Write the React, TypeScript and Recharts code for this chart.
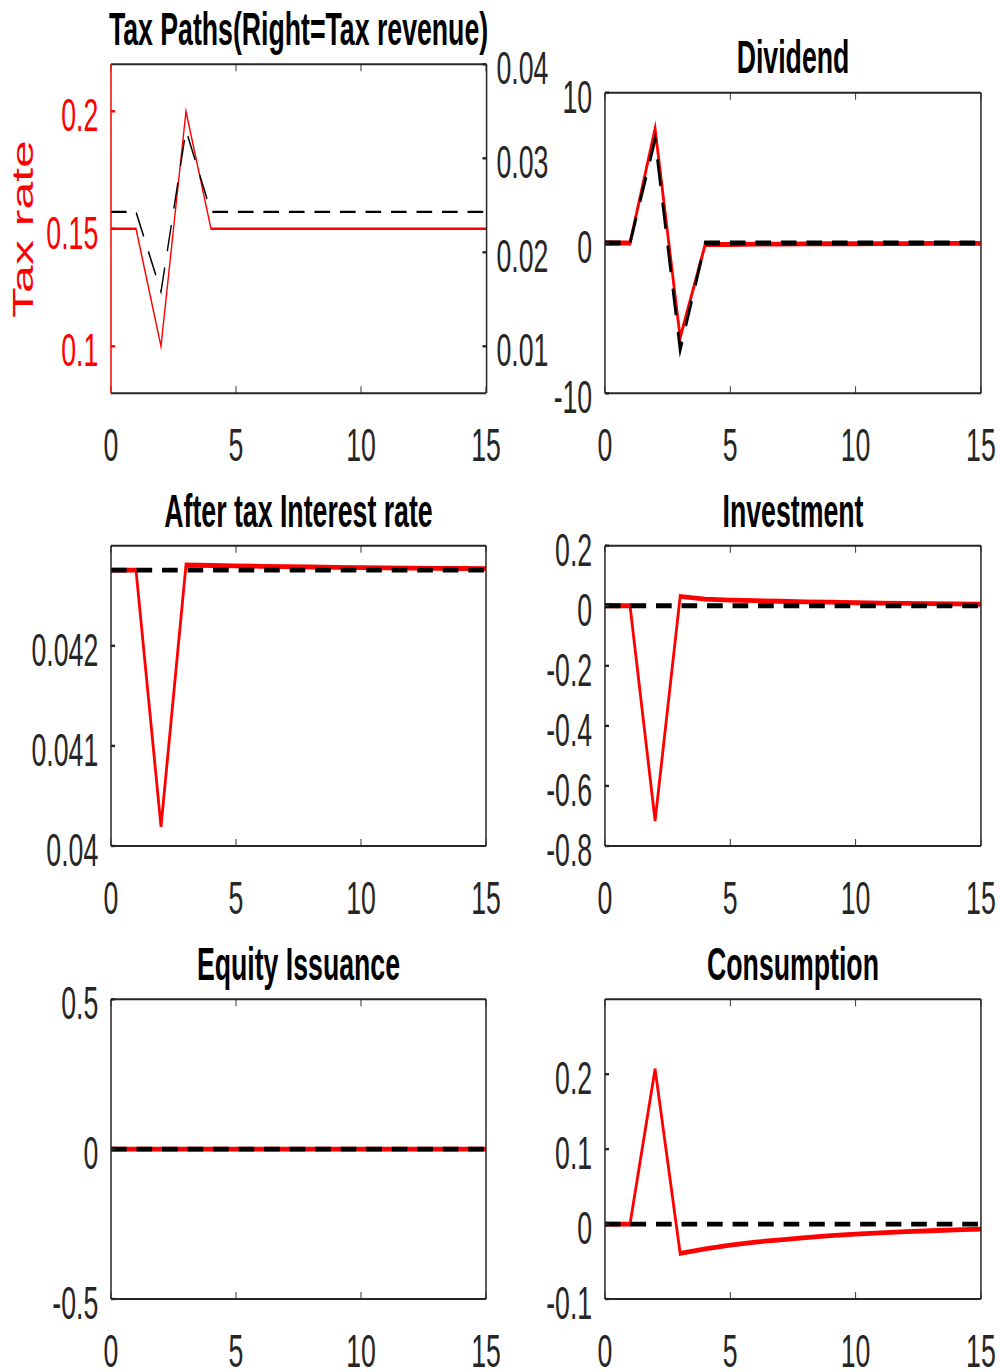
import { LineChart, Line, XAxis, YAxis } from 'recharts'

// The reference is a MATLAB figure squeezed horizontally, so everything is
// drawn in a wide space and compressed with scaleX at the end.
const SX = 0.58
const FONT = '"Liberation Sans", Arial, Helvetica, sans-serif'
const INK = '#262626'
const RED = '#ff0000'
const TICK = 7

const periods = [0, 1, 2, 3, 4, 5, 6, 7, 8, 9, 10, 11, 12, 13, 14, 15]
const xTicks = [0, 5, 10, 15]

const taxRate = [0.15, 0.15, 0.1, 0.2, 0.15, 0.15, 0.15, 0.15, 0.15, 0.15, 0.15, 0.15, 0.15, 0.15, 0.15, 0.15]
const taxRevenue = [0.0243, 0.0243, 0.0158, 0.033, 0.0243, 0.0243, 0.0243, 0.0243, 0.0243, 0.0243, 0.0243, 0.0243, 0.0243, 0.0243, 0.0243, 0.0243]

const dividend = [0, 0, 7.6, -6.3, -0.1, -0.1, -0.08, -0.07, -0.06, -0.05, -0.05, -0.04, -0.04, -0.03, -0.03, -0.03]
const dividendBase = [0, 0, 6.9, -7.1, 0, 0, 0, 0, 0, 0, 0, 0, 0, 0, 0, 0]

const interestRate = [0.042757, 0.042757, 0.040193, 0.042807, 0.042802, 0.042798, 0.042794, 0.04279, 0.042787, 0.042784, 0.042781, 0.042778, 0.042776, 0.042774, 0.042772, 0.04277]
const interestBase = [0.042757, 0.042757, 0.042757, 0.042757, 0.042757, 0.042757, 0.042757, 0.042757, 0.042757, 0.042757, 0.042757, 0.042757, 0.042757, 0.042757, 0.042757, 0.042757]

const investment = [0, 0, -0.716, 0.031, 0.022, 0.019, 0.017, 0.015, 0.013, 0.012, 0.01, 0.009, 0.008, 0.007, 0.006, 0.005]
const investmentBase = [0, 0, 0, 0, 0, 0, 0, 0, 0, 0, 0, 0, 0, 0, 0, 0]

const equity = [0, 0, 0, 0, 0, 0, 0, 0, 0, 0, 0, 0, 0, 0, 0, 0]
const equityBase = [0, 0, 0, 0, 0, 0, 0, 0, 0, 0, 0, 0, 0, 0, 0, 0]

const consumption = [0, 0, 0.207, -0.039, -0.033, -0.028, -0.024, -0.021, -0.018, -0.0155, -0.0135, -0.0117, -0.0102, -0.0089, -0.0078, -0.0068]
const consumptionBase = [0, 0, 0, 0, 0, 0, 0, 0, 0, 0, 0, 0, 0, 0, 0, 0]

const rows = (a: number[], b: number[]) => periods.map((t, i) => ({ t, red: a[i], black: b[i] }))

const leftTick = (color: string) => (p: any) => (
  <text x={p.x - TICK - 22} y={p.y + 20} textAnchor="end" fill={color} fontSize={46} fontFamily={FONT}>
    {String(p.payload.value)}
  </text>
)

const rightTick = (p: any) => (
  <text x={p.x + TICK + 17} y={p.y + 20} textAnchor="start" fill={INK} fontSize={46} fontFamily={FONT}>
    {String(p.payload.value)}
  </text>
)

const bottomTick = (p: any) => (
  <text x={p.x} y={p.y + TICK + 68} textAnchor="middle" fill={INK} fontSize={46} fontFamily={FONT}>
    {String(p.payload.value)}
  </text>
)

const noTick = () => <g />

interface PanelProps {
  data: Array<Record<string, number>>
  box: [number, number, number, number] // x0, y0, x1, y1 (final px)
  plot: [number, number, number, number] // left, top, right, bottom (final px)
  domain: [number, number]
  ticks: number[]
  leftColor?: string
  right?: { domain: [number, number]; ticks: number[] }
  lineWidth: number
}

function Panel({ data, box, plot, domain, ticks, leftColor = INK, right, lineWidth }: PanelProps) {
  const [x0, y0, x1, y1] = box
  const [l, t, r, b] = plot
  const rightW = right ? 2 : 1
  const axisX = { stroke: INK, strokeWidth: 2 }
  const axisY = (c: string) => ({ stroke: c, strokeWidth: 2.6 })
  const tickX = { stroke: INK, strokeWidth: 1.6 }
  const tickY = (c: string) => ({ stroke: c, strokeWidth: 2.4 })

  return (
    <div style={{ position: 'absolute', left: x0 / SX, top: y0 }}>
      <LineChart
        width={(x1 - x0) / SX}
        height={y1 - y0}
        data={data}
        margin={{ top: t - y0 - 1, right: (x1 - r) / SX - rightW, bottom: 0, left: 0 }}
      >
        <XAxis
          xAxisId="b"
          dataKey="t"
          type="number"
          domain={[0, 15]}
          ticks={xTicks}
          interval={0}
          height={y1 - b}
          tickSize={-TICK}
          tickMargin={0}
          axisLine={axisX}
          tickLine={tickX}
          tick={bottomTick}
        />
        <XAxis
          xAxisId="top"
          orientation="top"
          dataKey="t"
          type="number"
          domain={[0, 15]}
          ticks={xTicks}
          interval={0}
          height={1}
          tickSize={-TICK}
          tickMargin={0}
          axisLine={axisX}
          tickLine={tickX}
          tick={noTick}
        />
        <YAxis
          yAxisId="l"
          type="number"
          domain={domain}
          ticks={ticks}
          interval={0}
          width={(l - x0) / SX}
          tickSize={-TICK}
          tickMargin={0}
          axisLine={axisY(leftColor)}
          tickLine={tickY(leftColor)}
          tick={leftTick(leftColor)}
        />
        <YAxis
          yAxisId="r"
          orientation="right"
          type="number"
          domain={right ? right.domain : domain}
          ticks={right ? right.ticks : ticks}
          interval={0}
          width={1}
          tickSize={-TICK}
          tickMargin={0}
          axisLine={axisY(INK)}
          tickLine={tickY(INK)}
          tick={right ? rightTick : noTick}
        />
        {right && (
          <YAxis
            yAxisId="m"
            orientation="right"
            type="number"
            domain={domain}
            ticks={ticks}
            interval={0}
            width={1}
            tickSize={-TICK}
            tickMargin={0}
            axisLine={false}
            tickLine={tickY(RED)}
            tick={noTick}
          />
        )}
        <Line
          xAxisId="b"
          yAxisId="l"
          type="linear"
          dataKey="red"
          stroke={RED}
          strokeWidth={lineWidth}
          dot={false}
          activeDot={false}
          isAnimationActive={false}
        />
        <Line
          xAxisId="b"
          yAxisId={right ? 'r' : 'l'}
          type="linear"
          dataKey="black"
          stroke="#000000"
          strokeWidth={lineWidth}
          strokeDasharray="27 17"
          dot={false}
          activeDot={false}
          isAnimationActive={false}
        />
      </LineChart>
    </div>
  )
}

const titles = [
  { text: 'Tax Paths(Right=Tax revenue)', cx: 298.5, y: 45 },
  { text: 'Dividend', cx: 793, y: 73.3 },
  { text: 'After tax Interest rate', cx: 298.5, y: 526.7 },
  { text: 'Investment', cx: 793, y: 526.7 },
  { text: 'Equity Issuance', cx: 298.5, y: 980 },
  { text: 'Consumption', cx: 793, y: 980 },
]

export default function App() {
  return (
    <div style={{ position: 'absolute', left: 0, top: 0, width: 1000, height: 1372, overflow: 'hidden', background: '#fff' }}>
      <div
        style={{
          position: 'absolute',
          left: 0,
          top: 0,
          width: 1000 / SX,
          height: 1372,
          transform: `scaleX(${SX})`,
          transformOrigin: '0 0',
        }}
      >
        <Panel
          data={rows(taxRate, taxRevenue)}
          box={[0, 0, 560, 490]}
          plot={[111, 64.3, 486, 393.3]}
          domain={[0.08, 0.22]}
          ticks={[0.1, 0.15, 0.2]}
          leftColor={RED}
          right={{ domain: [0.005, 0.04], ticks: [0.01, 0.02, 0.03, 0.04] }}
          lineWidth={2.4}
        />
        <Panel
          data={rows(dividend, dividendBase)}
          box={[500, 0, 1000, 490]}
          plot={[605, 92.7, 981, 393.3]}
          domain={[-10, 10]}
          ticks={[-10, 0, 10]}
          lineWidth={4.8}
        />
        <Panel
          data={rows(interestRate, interestBase)}
          box={[0, 470, 500, 940]}
          plot={[111, 545.7, 486, 846]}
          domain={[0.04, 0.043]}
          ticks={[0.04, 0.041, 0.042]}
          lineWidth={4.8}
        />
        <Panel
          data={rows(investment, investmentBase)}
          box={[500, 470, 1000, 940]}
          plot={[605, 545.7, 981, 846]}
          domain={[-0.8, 0.2]}
          ticks={[-0.8, -0.6, -0.4, -0.2, 0, 0.2]}
          lineWidth={4.8}
        />
        <Panel
          data={rows(equity, equityBase)}
          box={[0, 920, 500, 1390]}
          plot={[111, 999.3, 486, 1299]}
          domain={[-0.5, 0.5]}
          ticks={[-0.5, 0, 0.5]}
          lineWidth={4.8}
        />
        <Panel
          data={rows(consumption, consumptionBase)}
          box={[500, 920, 1000, 1390]}
          plot={[605, 999.3, 981, 1299]}
          domain={[-0.1, 0.3]}
          ticks={[-0.1, 0, 0.1, 0.2]}
          lineWidth={4.8}
        />
        <svg
          width={1000 / SX}
          height={1372}
          style={{ position: 'absolute', left: 0, top: 0, pointerEvents: 'none' }}
        >
          {titles.map((tt) => (
            <text
              key={tt.text}
              x={tt.cx / SX}
              y={tt.y}
              textAnchor="middle"
              fontSize={46}
              fontWeight="bold"
              fontFamily={FONT}
              fill="#000"
            >
              {tt.text}
            </text>
          ))}
          <text
            transform={`translate(${33.3 / SX}, 229) rotate(-90)`}
            textAnchor="middle"
            fontSize={50}
            fontFamily={FONT}
            fill={RED}
          >
            Tax rate
          </text>
        </svg>
      </div>
    </div>
  )
}
